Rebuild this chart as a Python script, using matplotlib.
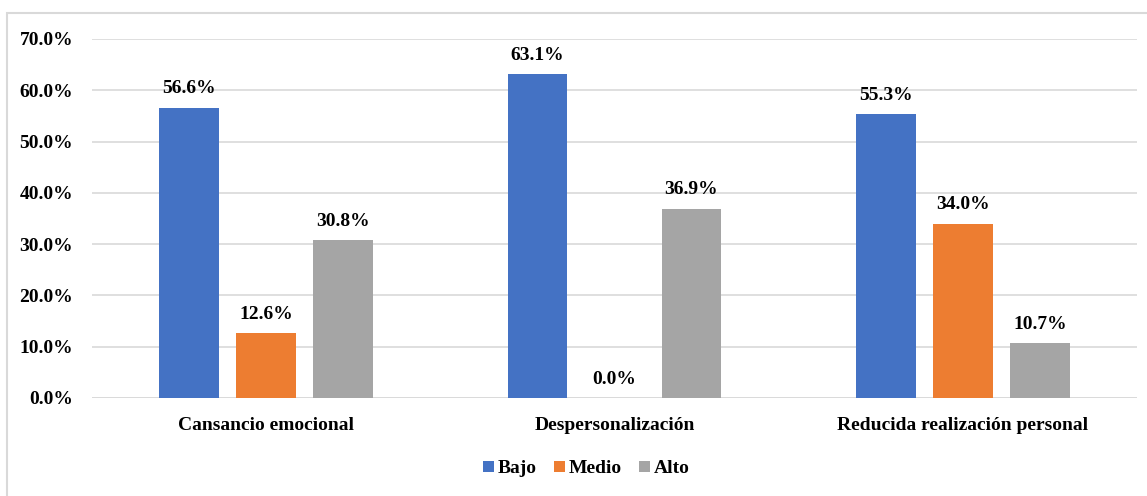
import numpy as np
import matplotlib

matplotlib.use("Agg")
import matplotlib.pyplot as plt
from matplotlib.patches import Rectangle

categories = ["Cansancio emocional", "Despersonalización", "Reducida realización personal"]
series_names = ["Bajo", "Medio", "Alto"]
bajo = [56.6, 63.1, 55.3]
medio = [12.6, 0.0, 34.0]
alto = [30.8, 36.9, 10.7]
colors = ["#4472C4", "#ED7D31", "#A5A5A5"]

plt.rcParams["font.family"] = ["Liberation Serif", "DejaVu Serif"]
plt.rcParams["font.weight"] = "bold"
fs = 14

fig = plt.figure(figsize=(11.47, 4.96), dpi=100)
ax = fig.add_axes([0.0802, 0.1976, 0.9111, 0.7238])

# light frame round the chart area
fig.patches.append(Rectangle((7 / 1147, -0.1), 1.2, 1 - 13 / 496 + 0.1,
                             transform=fig.transFigure, fill=False,
                             edgecolor="#D9D9D9", linewidth=1.5))

x = np.arange(len(categories))
width = 0.172
step = 0.221
for i, (name, vals) in enumerate(zip(series_names, [bajo, medio, alto])):
    pos = x + (i - 1) * step
    bars = ax.bar(pos, vals, width, color=colors[i], label=name, zorder=3)
    for b, v in zip(bars, vals):
        ax.text(b.get_x() + b.get_width() / 2, v + 2.0, f"{v:.1f}%",
                ha="center", va="bottom", fontsize=fs, fontweight="bold")

ax.set_xlim(-0.5, 2.5)
ax.set_ylim(0, 70)
ax.set_yticks(np.arange(0, 71, 10))
ax.set_yticklabels([f"{t:.1f}%" for t in np.arange(0, 71, 10)], fontsize=fs, fontweight="bold")
ax.set_xticks(x)
ax.set_xticklabels(categories, fontsize=fs, fontweight="bold")
ax.tick_params(axis="both", length=0)
ax.tick_params(axis="y", pad=13.5)
ax.tick_params(axis="x", pad=14)
ax.yaxis.grid(True, color="#D9D9D9", linewidth=1.2, zorder=0)
for s in ax.spines.values():
    s.set_visible(False)
ax.axhline(0, color="#D9D9D9", linewidth=1.2, zorder=1)

ax.legend(loc="upper center", bbox_to_anchor=(0.473, -0.125), ncol=3, frameon=False,
          handlelength=0.55, handleheight=0.55, handletextpad=0.2, columnspacing=0.9,
          prop={"size": fs, "weight": "bold"})

fig.savefig("out.png", dpi=100)
